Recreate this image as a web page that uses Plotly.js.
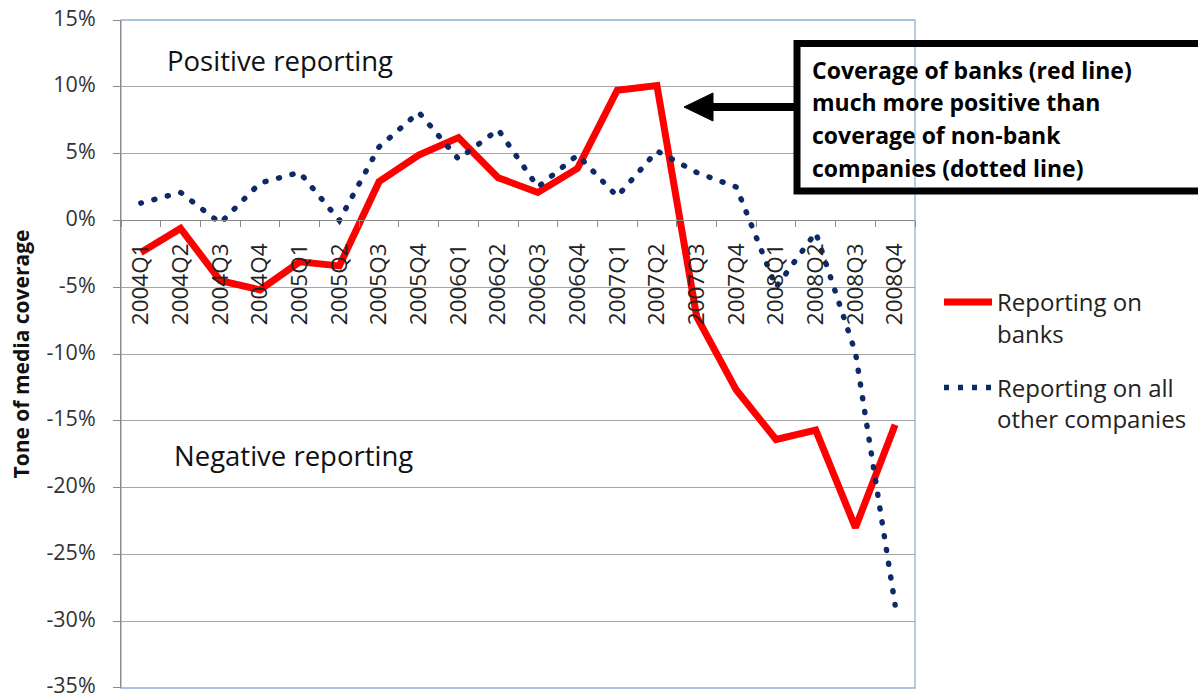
<!DOCTYPE html>
<html>
<head>
<meta charset="utf-8">
<script src="https://cdn.plot.ly/plotly-3.0.1.min.js"></script>
<style>html,body{margin:0;padding:0;background:#fff;}</style>
</head>
<body>
<div id="chart" style="width:1198px;height:698px;"></div>
<script>
const quarters = ['2004Q1','2004Q2','2004Q3','2004Q4','2005Q1','2005Q2','2005Q3','2005Q4',
  '2006Q1','2006Q2','2006Q3','2006Q4','2007Q1','2007Q2','2007Q3','2007Q4',
  '2008Q1','2008Q2','2008Q3','2008Q4'];
const banks = [-2.4, -0.6, -4.5, -5.2, -3.1, -3.4, 2.9, 4.9, 6.2, 3.2, 2.1, 3.9,
  9.75, 10.1, -7.2, -12.7, -16.4, -15.7, -23.0, -15.3];
const others = [1.3, 2.1, -0.2, 2.8, 3.6, 0.0, 5.5, 8.1, 4.6, 6.8, 2.5, 4.9,
  1.8, 5.2, 3.6, 2.5, -5.0, -0.9, -9.9, -28.8];
const yTicks = [15, 10, 5, 0, -5, -10, -15, -20, -25, -30, -35];
const yTickText = yTicks.map(v => v + '%');
const seriesNames = ['Reporting on<br>banks', 'Reporting on all<br>other companies'];
const boxLines = ['Coverage of banks (red line)', 'much more positive than',
  'coverage of non-bank', 'companies (dotted line)'];

const W = 1198, H = 698, L = 121, R = 915, T = 20, B = 688;
const px = x => (x - L) / (R - L);
const py = y => (B - y) / (B - T);
const FONT = '"Open Sans", Lato, sans-serif';

const traces = [
  {x: quarters, y: banks, name: seriesNames[0], legendgroup: 'g1', type: 'scatter', mode: 'lines',
   line: {color: '#ff0000', width: 7, shape: 'linear'}},
  {x: quarters, y: others, name: seriesNames[1], legendgroup: 'g2', type: 'scatter', mode: 'lines',
   line: {color: '#0d2a66', width: 5.5, dash: '5px,9px'}}
];

const ann = [
  {text: 'Positive reporting', x: px(165), y: py(60), xanchor: 'left', yanchor: 'middle',
   font: {size: 27.5, color: '#111'}},
  {text: 'Negative reporting', x: px(172), y: py(456), xanchor: 'left', yanchor: 'middle',
   font: {size: 27.5, color: '#111'}}
];
const lineYs = [70, 102, 135, 168];
boxLines.forEach((t, i) => ann.push({text: '<b>' + t + '</b>', x: px(810), y: py(lineYs[i]),
  xanchor: 'left', yanchor: 'middle', font: {size: 23, color: '#000'}}));
ann.forEach(a => { a.xref = 'paper'; a.yref = 'paper'; a.showarrow = false; });

const shapes = [
  {type: 'rect', xref: 'paper', yref: 'paper', x0: 0, x1: 1, y0: 0, y1: 1,
   line: {color: '#8fb0d6', width: 1.3}, layer: 'below'},
  {type: 'rect', xref: 'paper', yref: 'paper', x0: px(797), x1: px(1215), y0: py(191), y1: py(43.5),
   line: {color: '#000', width: 7}, fillcolor: '#fff', layer: 'above'},
  {type: 'line', xref: 'paper', yref: 'paper', x0: 1, x1: 1, y0: py(188), y1: py(47),
   line: {color: '#8fb0d6', width: 1.3}, layer: 'above'},
  {type: 'line', xref: 'paper', yref: 'paper', x0: px(710), x1: px(797), y0: py(107), y1: py(107),
   line: {color: '#000', width: 8}, layer: 'above'},
  {type: 'path', xref: 'paper', yref: 'paper',
   path: 'M' + px(684) + ',' + py(107) + ' L' + px(713) + ',' + py(93) + ' L' + px(713) + ',' + py(121) + ' Z',
   fillcolor: '#000', line: {color: '#000', width: 1}, layer: 'above'}
];

const layout = {
  width: W, height: H,
  margin: {l: L, r: W - R, t: T, b: H - B, pad: 0, autoexpand: false},
  paper_bgcolor: '#fff', plot_bgcolor: '#fff',
  font: {family: FONT, color: '#222'},
  showlegend: true,
  legend: {x: px(939), y: py(280), xanchor: 'left', yanchor: 'top', valign: 'top',
    font: {size: 24, color: '#222'}, tracegroupgap: 20, itemwidth: 48,
    bgcolor: 'rgba(0,0,0,0)'},
  xaxis: {type: 'category', anchor: 'free', position: py(220.4), side: 'bottom',
    showgrid: false, zeroline: false, showline: true, linecolor: '#8a8a8a', linewidth: 1,
    ticks: 'outside', ticklen: 6, tickcolor: '#8a8a8a', tickson: 'boundaries',
    tickangle: -90, tickfont: {size: 22.5, color: '#222'}, ticklabelstandoff: 13,
    range: [-0.5, 19.5], fixedrange: true},
  yaxis: {range: [-35.01, 15.01], tickvals: yTicks, ticktext: yTickText,
    showgrid: true, gridcolor: '#a6a6a6', gridwidth: 1, zeroline: false,
    showline: true, linecolor: '#8a8a8a', linewidth: 1, ticks: 'outside', ticklen: 7,
    tickcolor: '#8a8a8a', tickfont: {size: 21.5, color: '#333'}, ticklabelstandoff: 13,
    ticklabeloverflow: 'allow', ticklabelshift: -2,
    title: {text: '<b>Tone of media coverage</b>', font: {size: 21, color: '#111'}, standoff: 11},
    fixedrange: true},
  annotations: ann,
  shapes: shapes
};

Plotly.newPlot('chart', traces, layout, {displayModeBar: false, staticPlot: true}).then(() => {
  document.querySelectorAll('.scatterlayer .trace:nth-child(2) path.js-line').forEach(p => {
    const len = p.getTotalLength();
    const n = Math.max(1, Math.round(len / 14));
    const P = len / n;
    p.style.strokeLinecap = 'round';
    p.style.strokeDasharray = '1px,' + (P - 1) + 'px';
    p.style.strokeDashoffset = '0.5px';
  });
  document.querySelectorAll('.legend .traces:nth-child(2) path.js-line').forEach(p => {
    p.style.strokeLinecap = 'round';
    p.style.strokeDasharray = '1px,15px';
  });
});
</script>
</body>
</html>
